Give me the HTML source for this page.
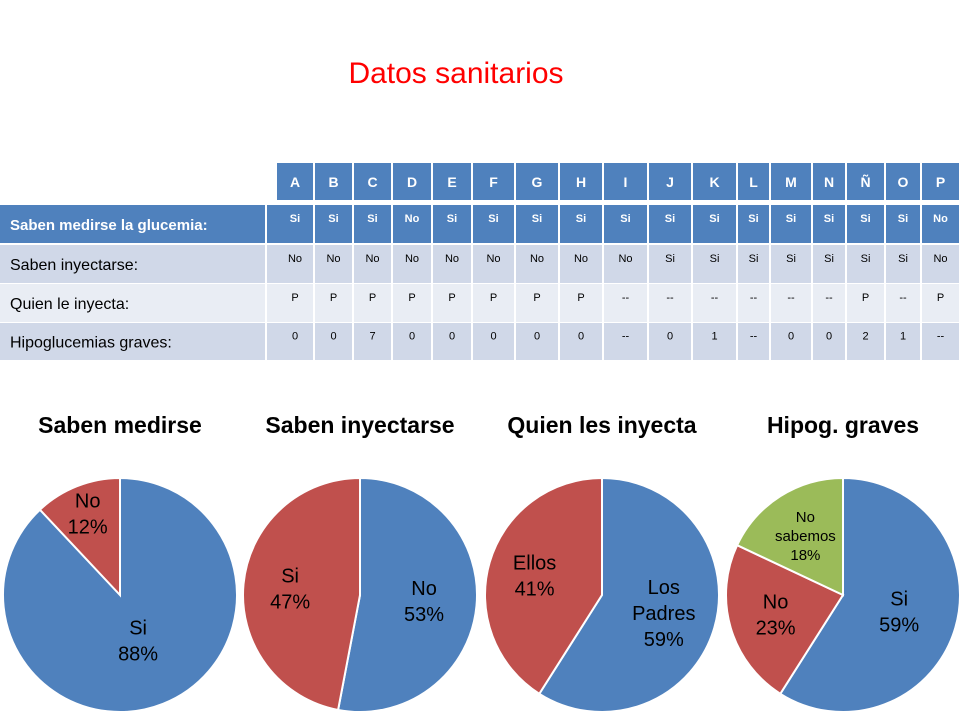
<!DOCTYPE html>
<html><head><meta charset="utf-8"><style>
body{margin:0;background:#fff;}
svg{display:block;font-family:"Liberation Sans",sans-serif;}
</style></head><body>
<svg id="s" width="963" height="720">
<text x="456" y="83" text-anchor="middle" font-size="30" fill="#ff0000">Datos sanitarios</text>
<g id="tbl"></g>
<g id="pies"></g>
</svg>
<script>
const NS="http://www.w3.org/2000/svg";
const patients=["A","B","C","D","E","F","G","H","I","J","K","L","M","N","Ñ","O","P"];
const rowLabels=["Saben medirse la glucemia:","Saben inyectarse:","Quien le inyecta:","Hipoglucemias graves:"];
const rowMedirse=["Si","Si","Si","No","Si","Si","Si","Si","Si","Si","Si","Si","Si","Si","Si","Si","No"];
const rowInyectarse=["No","No","No","No","No","No","No","No","No","Si","Si","Si","Si","Si","Si","Si","No"];
const rowQuien=["P","P","P","P","P","P","P","P","--","--","--","--","--","--","P","--","P"];
const rowHipo=["0","0","7","0","0","0","0","0","--","0","1","--","0","0","2","1","--"];
const colEdges=[277,315,354,393,433,473,516,560,604,649,693,738,771,813,847,886,922,961];

const pieTitles=["Saben medirse","Saben inyectarse","Quien les inyecta","Hipog. graves"];
const pie1Labels=["Si","No"], pie1Values=[88,12];
const pie2Labels=["No","Si"], pie2Values=[53,47];
const pie3Labels=["Los Padres","Ellos"], pie3Values=[59,41];
const pie4Labels=["Si","No","No sabemos"], pie4Values=[59,23,18];

function el(tag,attrs,parent,txt){const e=document.createElementNS(NS,tag);for(const k in attrs)e.setAttribute(k,attrs[k]);if(txt!==undefined)e.textContent=txt;parent.appendChild(e);return e;}
const tbl=document.getElementById('tbl');
// header
patients.forEach((p,i)=>{
  const x=colEdges[i],w=colEdges[i+1]-x-2;
  const r=el('rect',{x:x,y:163,width:w,height:37,fill:'#4f81bd'},tbl);
  
  
  const t=el('text',{x:x+w/2,y:187,'text-anchor':'middle','font-size':14,'font-weight':'bold',fill:'#fff'},tbl,p);
  
  
});
const rows=[rowMedirse,rowInyectarse,rowQuien,rowHipo];
const rowY=[[205,38],[245,38],[284,38],[323,37]];
const rowFill=['#4f81bd','#d0d8e8','#e9edf4','#d0d8e8'];
rows.forEach((row,ri)=>{
  const [y,h]=rowY[ri];
  const lr=el('rect',{x:0,y:y,width:266,height:h,fill:rowFill[ri]},tbl);
  
  
  const lt=el('text',{x:10,y:y+h/2+6,'font-size':ri==0?15:16,'font-weight':ri==0?'bold':'normal',fill:ri==0?'#fff':'#000'},tbl,rowLabels[ri]);
  
  
  const gap=el('rect',{x:266,y:y,width:11,height:h,fill:rowFill[ri]},tbl);
  
  
  row.forEach((v,i)=>{
    const x=colEdges[i],w=colEdges[i+1]-x-2;
    const c=el('rect',{x:x-1,y:y,width:w+2,height:h,fill:rowFill[ri]},tbl);
    
    
    const t=el('text',{x:x+w/2,y:y+h/2-2,'text-anchor':'middle','font-size':11,'font-weight':ri==0?'bold':'normal',fill:ri==0?'#fff':'#000'},tbl,v);
    
    
  });
  // vertical white separators
  colEdges.forEach((x,i)=>{ if(i==0)return;
    const l=el('line',{x1:x-1,x2:x-1,y1:y,y2:y+h,stroke:'#fff','stroke-width':2},tbl);
    
    
  });
  const l2=el('line',{x1:266,x2:266,y1:y,y2:y+h,stroke:'#fff','stroke-width':2},tbl);
  
  
});

const colors=['#4f81bd','#c0504d','#9bbb59'];
const pies=[[pie1Labels,pie1Values],[pie2Labels,pie2Values],[pie3Labels,pie3Values],[pie4Labels,pie4Values]];
const centers=[120,360,602,843], cy=595, R=117;
const labelR=[[0.42,0.75],[0.55,0.6],[0.55,0.6],[0.5,0.6,0.6]];
const pg=document.getElementById('pies');
pies.forEach(([labels,vals],pi)=>{
  const cx=centers[pi];
  const tt=el('text',{x:cx,y:433,'text-anchor':'middle','font-size':23,'font-weight':'bold',fill:'#000'},pg,pieTitles[pi]);
  
  
  const total=vals.reduce((a,b)=>a+b,0);
  let a0=0;
  vals.forEach((v,si)=>{
    const a1=a0+v/total*2*Math.PI;
    const p=(a)=>[cx+R*Math.sin(a),cy-R*Math.cos(a)];
    const [x0,y0]=p(a0),[x1,y1]=p(a1);
    const large=(a1-a0)>Math.PI?1:0;
    const path=el('path',{d:`M${cx},${cy}L${x0},${y0}A${R},${R} 0 ${large} 1 ${x1},${y1}Z`,fill:colors[si],stroke:'#fff','stroke-width':2},pg);
    
    
    const am=(a0+a1)/2, lr=R*labelR[pi][si];
    const lx=cx+lr*Math.sin(am), ly=cy-lr*Math.cos(am);
    const small=(pi==3&&si==2);
    const lines=(small?labels[si].split(' '):(labels[si]=="Los Padres"?["Los","Padres"]:[labels[si]])).concat([v+'%']);
    const fs=small?15:20, lh=small?19:26;
    const t=el('text',{x:lx,'text-anchor':'middle','font-size':fs,fill:'#000'},pg);
    
    
    lines.forEach((ln,k)=>{el('tspan',{x:lx,y:ly-(lines.length-1)*lh/2+k*lh+fs*0.35},t,ln);});
    a0=a1;
  });
});
</script>
</body></html>
